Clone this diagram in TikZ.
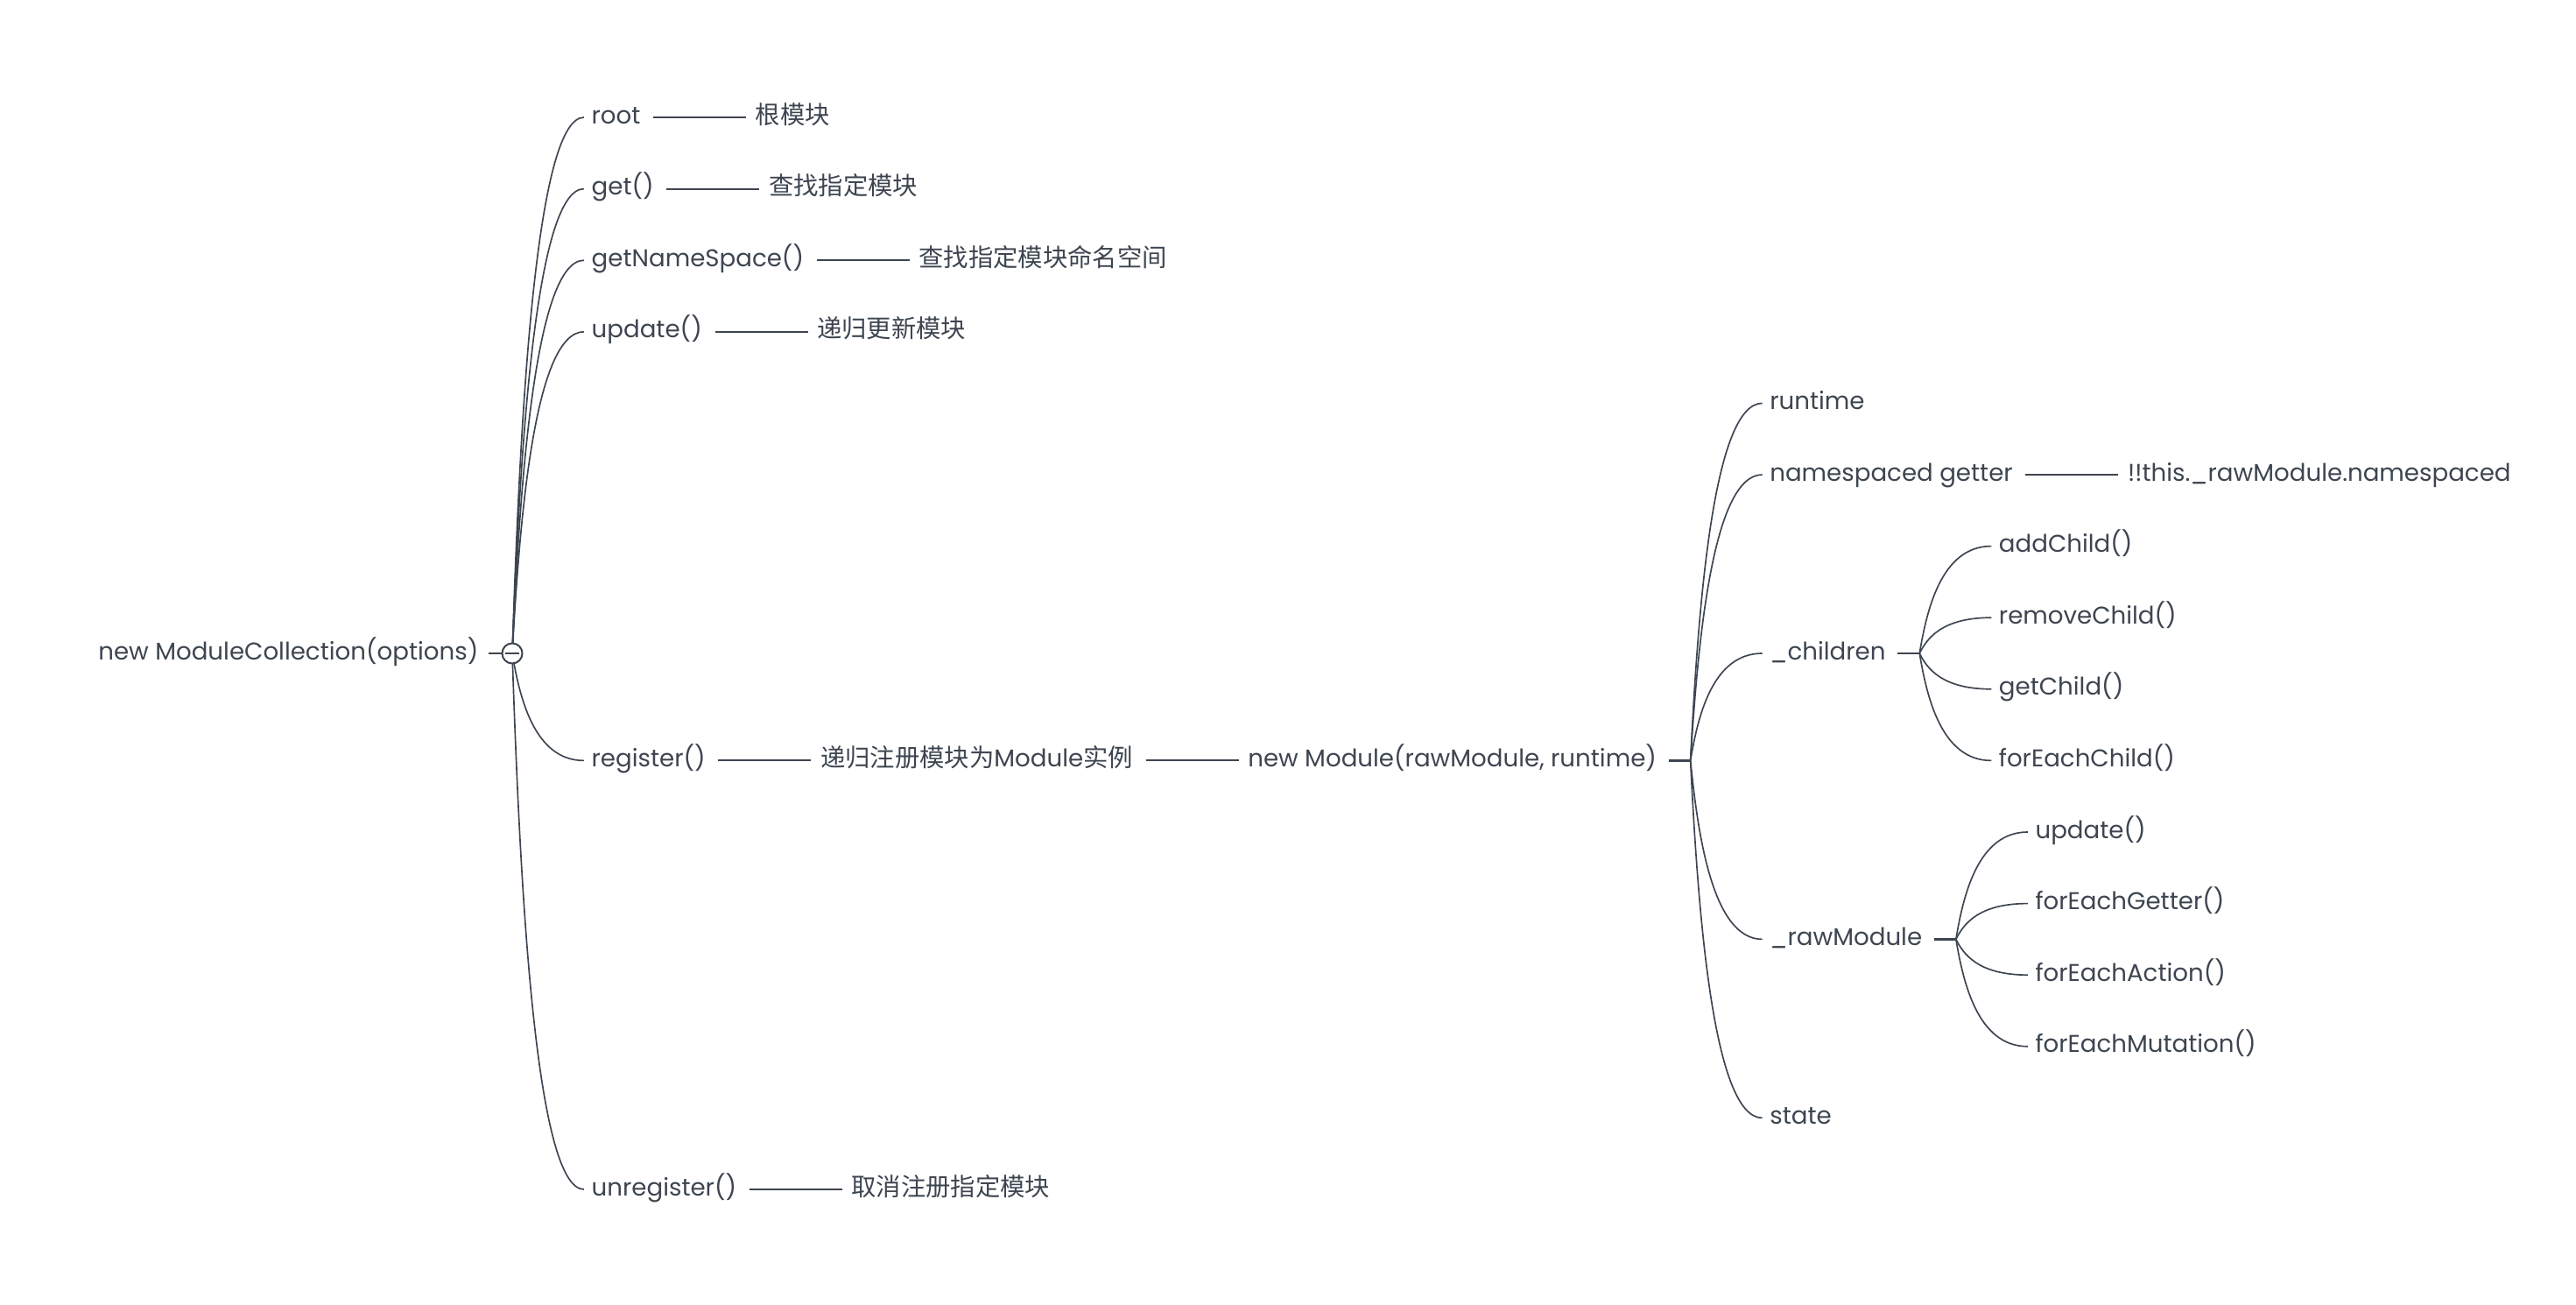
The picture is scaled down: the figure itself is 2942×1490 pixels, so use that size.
\documentclass[tikz,border=0pt]{standalone}
\usepackage{fontspec}
\setmainfont{Poppins}
\newfontfamily\cjk[Scale=1.024]{Noto Sans CJK SC}
\usetikzlibrary{positioning,calc}
\definecolor{ink}{HTML}{3D4550}

\tikzset{
  item/.style={inner xsep=2.4pt, inner ysep=0pt, text height=6.1pt, text depth=1.8pt,
    text=ink, font=\fontsize{8.3pt}{10pt}\selectfont},
  branch/.style={to path={let \p1=(\tikztostart), \p2=(\tikztotarget) in
    .. controls ({\x1+0.1*(\x2-\x1)},{\y1+0.4*(\y2-\y1)}) and ({\x1+0.3*(\x2-\x1)},\y2) .. (\tikztotarget)}},
  curve/.style={draw=ink, line width=0.5pt},
  link/.style={draw=ink, line width=0.55pt, shorten <=1.8pt, shorten >=0.6pt},
  stub/.style={draw=ink, line width=0.8pt, shorten <=1.5pt},
}

\begin{document}
\begin{tikzpicture}[x=0.3pt, y=-0.3pt]
\useasboundingbox (0,0) rectangle (2942,1490);

% centre topic
\coordinate (hub) at (585,746);
\node[item, left=9pt of hub] (mc) {new ModuleCollection(options)};

% first level
\coordinate (c1) at ([xshift=24.6pt]hub);
\node[item, anchor=west] (root) at (c1 |- 0,134) {root};
\node[item, right=34.2pt of root] (rootd) {\cjk 根模块};
\node[item, anchor=west] (get) at (c1 |- 0,215.6) {get()};
\node[item, right=34.2pt of get] (getd) {\cjk 查找指定模块};
\node[item, anchor=west] (gns) at (c1 |- 0,297.2) {getNameSpace()};
\node[item, right=34.2pt of gns] (gnsd) {\cjk 查找指定模块命名空间};
\node[item, anchor=west] (upd) at (c1 |- 0,378.8) {update()};
\node[item, right=34.2pt of upd] (updd) {\cjk 递归更新模块};
\node[item, anchor=west] (reg) at (c1 |- 0,868.4) {register()};
\node[item, right=34.2pt of reg] (regd) {{\cjk 递归注册模块为}Module{\cjk 实例}};
\node[item, right=34.2pt of regd] (mod) {new Module(rawModule, runtime)};
\node[item, anchor=west] (unreg) at (c1 |- 0,1358) {unregister()};
\node[item, right=34.2pt of unreg] (unregd) {\cjk 取消注册指定模块};

\draw[link] (root.east) -- (rootd.west);
\draw[link] (get.east) -- (getd.west);
\draw[link] (gns.east) -- (gnsd.west);
\draw[link] (upd.east) -- (updd.west);
\draw[link] (reg.east) -- (regd.west);
\draw[link] (regd.east) -- (mod.west);
\draw[link] (unreg.east) -- (unregd.west);

\draw[curve] (hub) to[branch] (root.west);
\draw[curve] (hub) to[branch] (get.west);
\draw[curve] (hub) to[branch] (gns.west);
\draw[curve] (hub) to[branch] (upd.west);
\draw[curve] (hub) to[branch] (reg.west);
\draw[curve] (hub) to[branch] (unreg.west);

% Module
\coordinate[right=9pt of mod] (jm);
\draw[stub] (mod.east) -- (jm);
\coordinate (c2) at ([xshift=24.6pt]jm);
\node[item, anchor=west] (rt) at (c2 |- 0,460.4) {runtime};
\node[item, anchor=west] (nsg) at (c2 |- 0,542) {namespaced getter};
\node[item, right=34.2pt of nsg] (nsgd) {!!this.\_rawModule.namespaced};
\node[item, anchor=west] (chl) at (c2 |- 0,746) {\_children};
\node[item, anchor=west] (raw) at (c2 |- 0,1072.4) {\_rawModule};
\node[item, anchor=west] (st) at (c2 |- 0,1276.4) {state};
\draw[link] (nsg.east) -- (nsgd.west);

\draw[curve] (jm) to[branch] (rt.west);
\draw[curve] (jm) to[branch] (nsg.west);
\draw[curve] (jm) to[branch] (chl.west);
\draw[curve] (jm) to[branch] (raw.west);
\draw[curve] (jm) to[branch] (st.west);

% _children
\coordinate[right=9pt of chl] (jc);
\draw[stub] (chl.east) -- (jc);
\coordinate (c3) at ([xshift=24.6pt]jc);
\node[item, anchor=west] (add) at (c3 |- 0,623.6) {addChild()};
\node[item, anchor=west] (rem) at (c3 |- 0,705.2) {removeChild()};
\node[item, anchor=west] (gch) at (c3 |- 0,786.8) {getChild()};
\node[item, anchor=west] (fch) at (c3 |- 0,868.4) {forEachChild()};
\draw[curve] (jc) to[branch] (add.west);
\draw[curve] (jc) to[branch] (rem.west);
\draw[curve] (jc) to[branch] (gch.west);
\draw[curve] (jc) to[branch] (fch.west);

% _rawModule
\coordinate[right=9pt of raw] (jr);
\draw[stub] (raw.east) -- (jr);
\coordinate (c4) at ([xshift=24.6pt]jr);
\node[item, anchor=west] (rup) at (c4 |- 0,950) {update()};
\node[item, anchor=west] (feg) at (c4 |- 0,1031.6) {forEachGetter()};
\node[item, anchor=west] (fea) at (c4 |- 0,1113.2) {forEachAction()};
\node[item, anchor=west] (fem) at (c4 |- 0,1194.8) {forEachMutation()};
\draw[curve] (jr) to[branch] (rup.west);
\draw[curve] (jr) to[branch] (feg.west);
\draw[curve] (jr) to[branch] (fea.west);
\draw[curve] (jr) to[branch] (fem.west);

% collapse button on top of the lines
\node[circle, draw=ink, fill=white, line width=0.6pt, minimum size=6.9pt, inner sep=0pt] (hubc) at (hub) {};
\draw[ink, line width=0.6pt] ([xshift=-2.4pt]hub) -- ([xshift=2.4pt]hub);
\draw[stub, shorten <=1pt] (mc.east) -- (hubc.west);
\end{tikzpicture}
\end{document}
